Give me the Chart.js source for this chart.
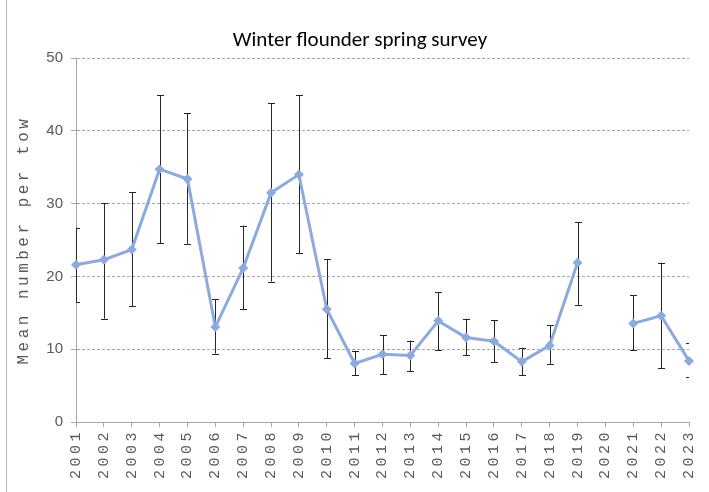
<!DOCTYPE html>
<html lang="en">
<head>
    <meta charset="UTF-8"/>
    <title>Winter flounder spring survey</title>
    <script src="https://cdn.jsdelivr.net/npm/chart.js@4.4.1/dist/chart.umd.min.js"></script>
    <style>
        body { margin: 0; background: #fff; }
        #wrap { position: relative; width: 709px; height: 492px; }
        #edge { position: absolute; left: 6px; top: 0; width: 1px; height: 492px; background: #b5b5b5; }
    </style>
</head>
<body>
<div id="wrap">
    <canvas id="myChart" width="709" height="492"></canvas>
    <div id="edge"></div>
</div>
<script>
    // survey years
    const years = ['2001', '2002', '2003', '2004', '2005', '2006', '2007', '2008', '2009', '2010', '2011', '2012',
        '2013', '2014', '2015', '2016', '2017', '2018', '2019', '2020', '2021', '2022', '2023'];

    // mean number per tow (no survey in 2020)
    const means = [21.6, 22.3, 23.7, 34.75, 33.4, 13.05, 21.15, 31.5, 34.0, 15.5, 8.05, 9.3,
        9.15, 13.9, 11.6, 11.1, 8.3, 10.5, 21.9, null, 13.55, 14.6, 8.4];

    // error bar ends
    const upper = [26.7, 30.1, 31.6, 44.9, 42.4, 16.85, 27.0, 43.8, 44.9, 22.4, 9.8, 11.9,
        11.2, 17.8, 14.2, 14.0, 10.2, 13.3, 27.5, null, 17.4, 21.9, 10.8];
    const lower = [16.5, 14.2, 15.9, 24.6, 24.5, 9.4, 15.5, 19.3, 23.2, 8.75, 6.4, 6.6,
        7.0, 9.9, 9.2, 8.2, 6.4, 8.0, 16.1, null, 9.9, 7.4, 6.2];

    const yTicks = [0, 10, 20, 30, 40, 50];

    const gray = '#a6a6a6';
    const labelColor = '#595959';
    const mono = "'Liberation Mono', 'DejaVu Sans Mono', monospace";

    // error bars, under the line, clipped to the plot area
    const errorBars = {
        id: 'errorBars',
        beforeDraw(chart) {
            chart.ctx.letterSpacing = '0px';
        },
        beforeDatasetsDraw(chart) {
            const {ctx, chartArea, scales: {x, y}} = chart;
            ctx.save();
            ctx.beginPath();
            ctx.rect(chartArea.left, chartArea.top, chartArea.right - chartArea.left, chartArea.bottom - chartArea.top);
            ctx.clip();
            ctx.strokeStyle = '#262626';
            ctx.lineWidth = 1;
            for (let i = 0; i < years.length; i++) {
                if (upper[i] == null) continue;
                const px = Math.round(x.getPixelForValue(i)) + 0.5;
                const top = y.getPixelForValue(upper[i]);
                const bot = y.getPixelForValue(lower[i]);
                ctx.beginPath();
                ctx.moveTo(px, top);
                ctx.lineTo(px, bot);
                ctx.moveTo(px - 3.5, Math.round(top) + 0.5);
                ctx.lineTo(px + 3.5, Math.round(top) + 0.5);
                ctx.moveTo(px - 3.5, Math.round(bot) + 0.5);
                ctx.lineTo(px + 3.5, Math.round(bot) + 0.5);
                ctx.stroke();
            }
            ctx.restore();
        },
        afterDatasetsDraw(chart) {
            // the monospaced axis texts are drawn after this, widely spaced
            chart.ctx.letterSpacing = '3.5px';
        },
        afterDraw(chart) {
            chart.ctx.letterSpacing = '0px';
        }
    };

    const ctx = document.getElementById('myChart').getContext('2d');
    new Chart(ctx, {
        type: 'line',
        data: {
            labels: years,
            datasets: [{
                label: 'Mean number per tow',
                data: means,
                xAxisID: 'x',
                yAxisID: 'y',
                borderColor: '#8eaadc',
                backgroundColor: '#8eaadc',
                borderWidth: 3,
                tension: 0,
                spanGaps: false,
                pointStyle: 'rectRot',
                pointRadius: 5,
                pointBorderWidth: 0,
                pointBackgroundColor: '#8eaadc'
            }]
        },
        options: {
            responsive: false,
            animation: false,
            layout: {
                // left padding pushes the centred title a bit to the right
                padding: {left: 28, right: 17, top: 0, bottom: 0}
            },
            plugins: {
                legend: {display: false},
                tooltip: {enabled: false},
                title: {
                    display: true,
                    text: 'Winter flounder spring survey',
                    color: '#000',
                    font: {family: "Carlito, 'Noto Sans', sans-serif", size: 21, weight: 'normal'},
                    padding: {top: 28, bottom: 5}
                }
            },
            scales: {
                yTitle: {
                    type: 'linear',
                    axis: 'y',
                    position: 'left',
                    weight: 10,
                    display: true,
                    grid: {display: false, z: 1},
                    border: {display: false},
                    ticks: {display: false},
                    title: {
                        display: true,
                        text: 'Mean number per tow',
                        color: labelColor,
                        font: {family: mono, size: 16},
                        padding: {top: -14, bottom: 0}
                    },
                    afterFit: (scale) => { scale.width = 12; }
                },
                y: {
                    type: 'linear',
                    position: 'left',
                    weight: 0,
                    min: 0,
                    max: 50,
                    afterBuildTicks: (scale) => {
                        scale.ticks = yTicks.map(v => ({value: v}));
                    },
                    ticks: {
                        color: labelColor,
                        font: {family: "'Liberation Sans', Arial, sans-serif", size: 15},
                        padding: 8
                    },
                    grid: {
                        color: gray,
                        tickColor: gray,
                        tickLength: 5
                    },
                    border: {display: true, color: gray, dash: [3, 2]},
                    afterFit: (scale) => { scale.width = 36; }
                },
                x: {
                    type: 'category',
                    offset: false,
                    ticks: {
                        color: labelColor,
                        font: {family: mono, size: 15},
                        autoSkip: false,
                        maxRotation: 90,
                        minRotation: 90,
                        padding: 2,
                        z: 1
                    },
                    grid: {
                        drawOnChartArea: false,
                        color: gray,
                        tickColor: gray,
                        tickLength: 5
                    },
                    border: {display: true, color: gray},
                    afterFit: (scale) => { scale.height = 70; }
                }
            }
        },
        plugins: [errorBars]
    });
</script>
</body>
</html>
